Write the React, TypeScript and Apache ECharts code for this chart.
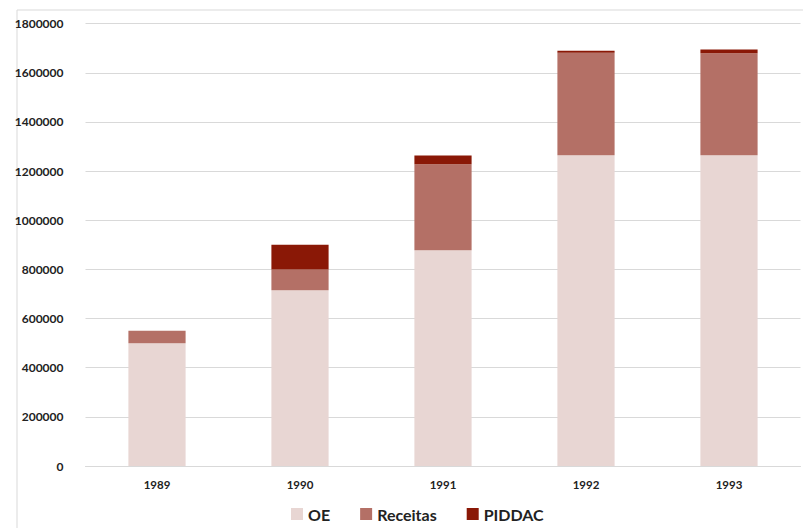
import React, { useEffect, useRef } from "react";
import * as echarts from "echarts";

const years = ["1989", "1990", "1991", "1992", "1993"];
const oe = [500000, 715000, 878000, 1265000, 1265000];
const receitas = [50000, 85000, 350000, 417000, 415000];
const piddac = [0, 100000, 36000, 8000, 15000];

const FONT = "Lato, 'Open Sans', sans-serif";

export default function App() {
  const ref = useRef<HTMLDivElement>(null);
  useEffect(() => {
    if (!ref.current) return;
    const chart = echarts.init(ref.current, undefined, { renderer: "svg" });
    chart.setOption({
      animation: false,
      backgroundColor: "#ffffff",
      textStyle: { fontFamily: FONT },
      graphic: [
        {
          type: "rect",
          shape: { x: 17, y: 10, width: 820, height: 560 },
          style: { fill: "none", stroke: "#d9d9d9", lineWidth: 1 },
          silent: true,
        },
      ],
      grid: { left: 85.5, right: 2.5, top: 23.7, bottom: 62, containLabel: false },
      legend: {
        left: 286,
        top: 501,
        itemWidth: 12,
        itemHeight: 12,
        itemGap: 30,
        icon: "rect",
        textStyle: { fontFamily: FONT, fontSize: 16, fontWeight: "bold", color: "#222" },
        data: ["OE", "Receitas", "PIDDAC"],
      },
      xAxis: {
        type: "category",
        data: years,
        axisLine: { lineStyle: { color: "#d9d9d9" } },
        axisTick: { show: false },
        axisLabel: { fontFamily: FONT, fontSize: 11.5, fontWeight: "bold", color: "#222", margin: 12 },
      },
      yAxis: {
        type: "value",
        min: 0,
        max: 1800000,
        interval: 200000,
        axisLine: { show: false },
        axisTick: { show: false },
        splitLine: { lineStyle: { color: "#d9d9d9", width: 1 } },
        axisLabel: {
          fontFamily: FONT,
          fontSize: 12,
          fontWeight: "bold",
          color: "#222",
          margin: 22,
          formatter: (v: number) => String(v),
        },
      },
      series: [
        { name: "OE", type: "bar", stack: "t", barWidth: "40%", data: oe, itemStyle: { color: "#e8d6d3" } },
        { name: "Receitas", type: "bar", stack: "t", barWidth: "40%", data: receitas, itemStyle: { color: "#b47066" } },
        { name: "PIDDAC", type: "bar", stack: "t", barWidth: "40%", data: piddac, itemStyle: { color: "#8a1806" } },
      ],
    });
    return () => chart.dispose();
  }, []);
  return (
    <div
      ref={ref}
      style={{ position: "absolute", left: 0, top: 0, width: 803, height: 528 }}
    />
  );
}
